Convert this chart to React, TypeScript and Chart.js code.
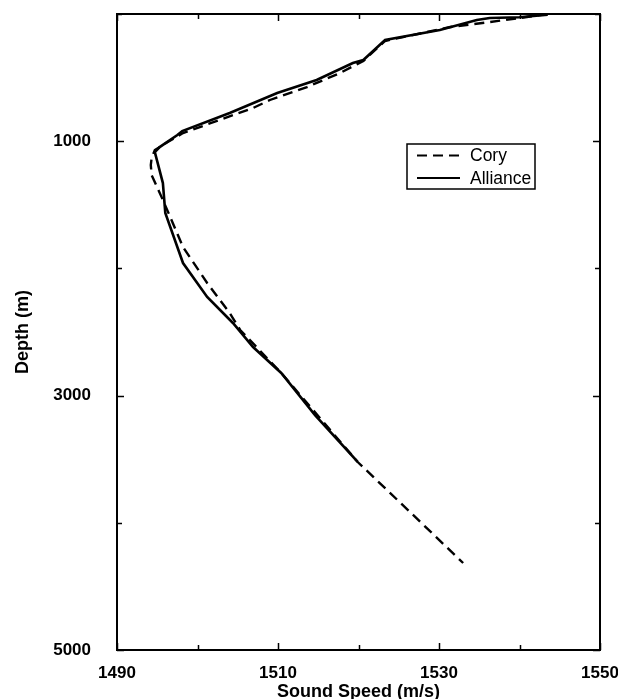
import React, { useEffect, useRef } from 'react';
import { Chart, registerables } from 'chart.js';

Chart.register(...registerables);

// Sound speed (m/s) vs depth (m)
const allianceSpeed = [1543.5, 1540.0, 1536.3, 1534.7, 1530.1, 1523.3, 1520.6, 1519.3, 1514.8, 1509.9, 1504.0, 1498.1, 1497.5, 1495.3, 1494.7, 1495.7, 1496.0, 1498.2, 1501.2, 1504.4, 1506.9, 1510.4, 1514.6, 1519.9];
const allianceDepth = [5, 25, 31, 47, 126, 204, 362, 385, 519, 621, 778, 920, 951, 1046, 1085, 1329, 1564, 1958, 2225, 2429, 2618, 2822, 3153, 3522];

const corySpeed = [1543.5, 1540.1, 1536.3, 1531.4, 1523.3, 1520.6, 1517.7, 1513.6, 1509.0, 1506.9, 1498.2, 1496.3, 1494.7, 1494.3, 1494.2, 1494.3, 1495.7, 1498.2, 1501.2, 1504.0, 1505.3, 1510.4, 1519.9, 1526.4, 1533.0];
const coryDepth = [0, 31, 63, 102, 212, 369, 464, 574, 676, 739, 936, 1006, 1069, 1132, 1187, 1266, 1462, 1832, 2115, 2351, 2484, 2822, 3522, 3915, 4316];

const xLabelValues = [1490, 1510, 1530, 1550];
const yLabelValues = [1000, 3000, 5000];
const seriesNames = ['Cory', 'Alliance'];
const xTitle = 'Sound Speed (m/s)';
const yTitle = 'Depth (m)';

const FONT = "'Liberation Sans', Arial, Helvetica, sans-serif";

const framePlugin = {
  id: 'frameAndLegend',
  afterDatasetsDraw(chart: any) {
    const { ctx, chartArea: a, scales } = chart;
    const x = scales.x;
    const y = scales.y;
    ctx.save();
    ctx.strokeStyle = '#000';
    ctx.lineWidth = 2;
    ctx.setLineDash([]);
    ctx.strokeRect(a.left, a.top, a.right - a.left, a.bottom - a.top);
    ctx.lineWidth = 1.5;
    x.ticks.forEach((t: any) => {
      const px = Math.round(x.getPixelForValue(t.value)) + 0.5;
      const len = xLabelValues.includes(t.value) ? 7 : 5;
      ctx.beginPath();
      ctx.moveTo(px, a.bottom);
      ctx.lineTo(px, a.bottom - len);
      ctx.moveTo(px, a.top);
      ctx.lineTo(px, a.top + len);
      ctx.stroke();
    });
    y.ticks.forEach((t: any) => {
      const py = Math.round(y.getPixelForValue(t.value)) + 0.5;
      const len = yLabelValues.includes(t.value) ? 7 : 5;
      ctx.beginPath();
      ctx.moveTo(a.left, py);
      ctx.lineTo(a.left + len, py);
      ctx.moveTo(a.right, py);
      ctx.lineTo(a.right - len, py);
      ctx.stroke();
    });

    // legend
    const bx = 407, by = 144, bw = 128, bh = 45;
    ctx.fillStyle = '#fff';
    ctx.fillRect(bx, by, bw, bh);
    ctx.lineWidth = 1.5;
    ctx.strokeRect(bx, by, bw, bh);
    const rows = [
      { name: seriesNames[0], dash: [10, 6], y: by + 11.5 },
      { name: seriesNames[1], dash: [], y: by + 34 },
    ];
    rows.forEach((r) => {
      ctx.lineWidth = 2.2;
      ctx.setLineDash(r.dash);
      ctx.beginPath();
      ctx.moveTo(bx + 10, r.y);
      ctx.lineTo(bx + 53, r.y);
      ctx.stroke();
      ctx.setLineDash([]);
      ctx.fillStyle = '#000';
      ctx.font = `17.5px ${FONT}`;
      ctx.textAlign = 'left';
      ctx.textBaseline = 'middle';
      ctx.fillText(r.name, bx + 63, r.y + 1);
    });
    ctx.restore();
  },
};

const zeroPad = (s: any) => {
  s.paddingTop = 0;
  s.paddingBottom = 0;
  s.paddingLeft = 0;
  s.paddingRight = 0;
};

export default function App() {
  const ref = useRef<HTMLCanvasElement | null>(null);
  useEffect(() => {
    if (!ref.current) return;
    const chart = new Chart(ref.current, {
      type: 'scatter',
      data: {
        datasets: [
          {
            label: seriesNames[0],
            data: corySpeed.map((v, i) => ({ x: v, y: coryDepth[i] })),
            showLine: true,
            borderColor: '#000',
            borderWidth: 2.4,
            borderDash: [10, 6],
            pointRadius: 0,
            tension: 0,
          },
          {
            label: seriesNames[1],
            data: allianceSpeed.map((v, i) => ({ x: v, y: allianceDepth[i] })),
            showLine: true,
            borderColor: '#000',
            borderWidth: 2.6,
            pointRadius: 0,
            tension: 0,
          },
        ],
      },
      options: {
        animation: false,
        responsive: false,
        devicePixelRatio: 1,
        layout: { padding: { top: 14, right: 18, left: 0, bottom: 0 } },
        plugins: { legend: { display: false }, tooltip: { enabled: false } },
        scales: {
          x: {
            type: 'linear',
            min: 1490,
            max: 1550,
            grid: { display: false, drawTicks: false },
            border: { display: false },
            ticks: {
              stepSize: 10,
              padding: 13,
              maxRotation: 0,
              autoSkip: false,
              color: '#000',
              font: { family: FONT, weight: 'bold', size: 17 },
              callback: (v: any) => (xLabelValues.includes(Number(v)) ? String(v) : ''),
            },
            title: {
              display: true,
              text: xTitle,
              color: '#000',
              font: { family: FONT, weight: 'bold', size: 18, lineHeight: 1 },
              padding: { top: 0, bottom: -2 },
            },
            afterFit: (s: any) => {
              s.height = 49;
              zeroPad(s);
            },
          },
          y: {
            type: 'linear',
            reverse: true,
            min: 0,
            max: 5000,
            grid: { display: false, drawTicks: false },
            border: { display: false },
            ticks: {
              stepSize: 1000,
              padding: 26,
              autoSkip: false,
              color: '#000',
              font: { family: FONT, weight: 'bold', size: 17 },
              callback: (v: any) => (yLabelValues.includes(Number(v)) ? String(v) : ''),
            },
            title: {
              display: true,
              text: yTitle,
              color: '#000',
              font: { family: FONT, weight: 'bold', size: 18, lineHeight: 1 },
              padding: { top: 14, bottom: 0 },
            },
            afterFit: (s: any) => {
              s.width = 117;
              zeroPad(s);
            },
          },
        },
      },
      plugins: [framePlugin],
    });
    return () => chart.destroy();
  }, []);
  return (
    <canvas
      ref={ref}
      width={618}
      height={699}
      style={{ position: 'absolute', left: 0, top: 0, width: 618, height: 699 }}
    />
  );
}
